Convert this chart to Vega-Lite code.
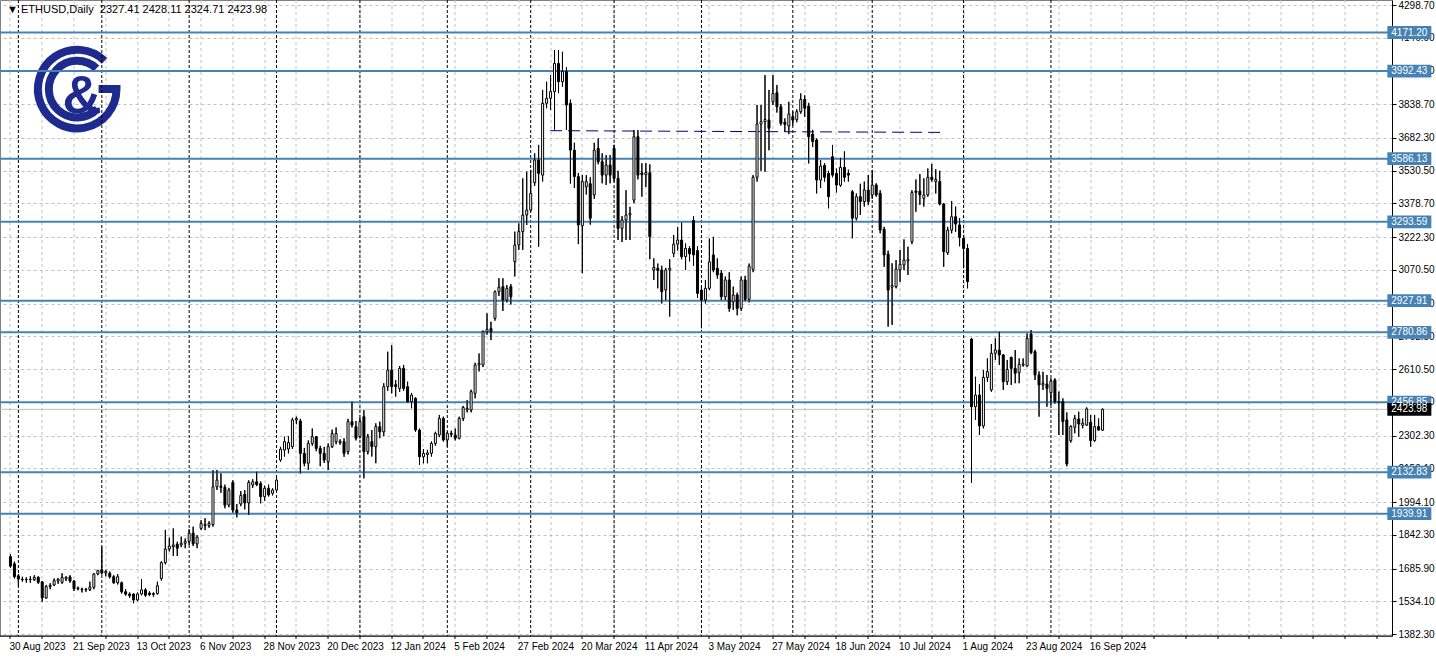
{
"$schema": "https://vega.github.io/schema/vega-lite/v6.json",
"width": 1392, "height": 636,
"autosize": {"type": "none"},
"padding": {"left": 0, "top": 0, "right": 44, "bottom": 22},
"background": "white",
"config": {"view": {"stroke": "#808080", "strokeWidth": 1}, "font": "Liberation Sans", "axis": {"labelOverlap": false}},
"title": {"text": "▼\u00a0ETHUSD,Daily\u00a0\u00a02327.41 2428.11 2324.71 2423.98", "anchor": "start", "frame": "group", "orient": "top", "baseline": "top", "offset": -15, "dx": 7, "fontSize": 11, "fontWeight": "normal", "font": "Liberation Sans", "color": "black"},
"datasets": {
"candles": [
{"i":0,"o":1741,"h":1752,"l":1690,"c":1697},{"i":1,"o":1708,"h":1718,"l":1640,"c":1648},{"i":2,"o":1652,"h":1660,"l":1605,"c":1637},{"i":3,"o":1636,"h":1648,"l":1625,"c":1634},{"i":4,"o":1634,"h":1645,"l":1620,"c":1636},{"i":5,"o":1636,"h":1650,"l":1620,"c":1635},{"i":6,"o":1634,"h":1655,"l":1628,"c":1645},{"i":7,"o":1645,"h":1650,"l":1615,"c":1622},{"i":8,"o":1624,"h":1628,"l":1532,"c":1550},{"i":9,"o":1550,"h":1610,"l":1545,"c":1602},
{"i":10,"o":1602,"h":1618,"l":1590,"c":1608},{"i":11,"o":1610,"h":1640,"l":1605,"c":1630},{"i":12,"o":1628,"h":1642,"l":1615,"c":1636},{"i":13,"o":1622,"h":1664,"l":1615,"c":1645},{"i":14,"o":1638,"h":1650,"l":1628,"c":1645},{"i":15,"o":1647,"h":1655,"l":1620,"c":1628},{"i":16,"o":1628,"h":1632,"l":1582,"c":1592},{"i":17,"o":1592,"h":1602,"l":1585,"c":1596},{"i":18,"o":1590,"h":1597,"l":1575,"c":1588},{"i":19,"o":1588,"h":1596,"l":1578,"c":1590},
{"i":20,"o":1588,"h":1625,"l":1582,"c":1600},{"i":21,"o":1599,"h":1665,"l":1590,"c":1660},{"i":22,"o":1661,"h":1680,"l":1655,"c":1676},{"i":23,"o":1680,"h":1787,"l":1658,"c":1665},{"i":24,"o":1665,"h":1680,"l":1650,"c":1672},{"i":25,"o":1664,"h":1672,"l":1640,"c":1648},{"i":26,"o":1648,"h":1655,"l":1615,"c":1620},{"i":27,"o":1620,"h":1660,"l":1612,"c":1648},{"i":28,"o":1620,"h":1625,"l":1570,"c":1578},{"i":29,"o":1578,"h":1590,"l":1560,"c":1567},
{"i":30,"o":1568,"h":1575,"l":1550,"c":1560},{"i":31,"o":1567,"h":1572,"l":1525,"c":1541},{"i":32,"o":1540,"h":1575,"l":1535,"c":1568},{"i":33,"o":1568,"h":1637,"l":1562,"c":1587},{"i":34,"o":1587,"h":1595,"l":1555,"c":1562},{"i":35,"o":1572,"h":1580,"l":1558,"c":1565},{"i":36,"o":1565,"h":1575,"l":1555,"c":1570},{"i":37,"o":1570,"h":1625,"l":1565,"c":1606},{"i":38,"o":1640,"h":1720,"l":1630,"c":1713},{"i":39,"o":1713,"h":1865,"l":1705,"c":1776},
{"i":40,"o":1776,"h":1829,"l":1765,"c":1790},{"i":41,"o":1787,"h":1872,"l":1744,"c":1795},{"i":42,"o":1798,"h":1810,"l":1744,"c":1780},{"i":43,"o":1795,"h":1834,"l":1785,"c":1803},{"i":44,"o":1803,"h":1825,"l":1780,"c":1812},{"i":45,"o":1812,"h":1868,"l":1795,"c":1850},{"i":46,"o":1850,"h":1880,"l":1790,"c":1800},{"i":47,"o":1800,"h":1840,"l":1780,"c":1832},{"i":48,"o":1872,"h":1910,"l":1865,"c":1895},{"i":49,"o":1885,"h":1919,"l":1864,"c":1890},
{"i":50,"o":1885,"h":1905,"l":1875,"c":1895},{"i":51,"o":1890,"h":2142,"l":1880,"c":2065},{"i":52,"o":2065,"h":2143,"l":2050,"c":2096},{"i":53,"o":2068,"h":2127,"l":2037,"c":2062},{"i":54,"o":2062,"h":2075,"l":1965,"c":1980},{"i":55,"o":1980,"h":2060,"l":1970,"c":2050},{"i":56,"o":2085,"h":2095,"l":1945,"c":1957},{"i":57,"o":1957,"h":1985,"l":1923,"c":1944},{"i":58,"o":1985,"h":2045,"l":1975,"c":2025},{"i":59,"o":2030,"h":2050,"l":1960,"c":1990},
{"i":60,"o":1990,"h":2095,"l":1934,"c":2085},{"i":61,"o":2073,"h":2100,"l":2060,"c":2088},{"i":62,"o":2088,"h":2135,"l":2068,"c":2075},{"i":63,"o":2080,"h":2090,"l":1988,"c":2019},{"i":64,"o":2019,"h":2070,"l":2000,"c":2058},{"i":65,"o":2058,"h":2075,"l":2020,"c":2027},{"i":66,"o":2035,"h":2058,"l":2025,"c":2050},{"i":67,"o":2050,"h":2110,"l":2045,"c":2096},{"i":68,"o":2189,"h":2250,"l":2181,"c":2239},{"i":69,"o":2235,"h":2297,"l":2205,"c":2274},
{"i":70,"o":2240,"h":2300,"l":2220,"c":2270},{"i":71,"o":2251,"h":2385,"l":2240,"c":2375},{"i":72,"o":2375,"h":2390,"l":2355,"c":2382},{"i":73,"o":2370,"h":2380,"l":2127,"c":2220},{"i":74,"o":2220,"h":2245,"l":2160,"c":2174},{"i":75,"o":2174,"h":2280,"l":2143,"c":2266},{"i":76,"o":2266,"h":2335,"l":2255,"c":2297},{"i":77,"o":2297,"h":2300,"l":2230,"c":2243},{"i":78,"o":2243,"h":2255,"l":2160,"c":2220},{"i":79,"o":2220,"h":2250,"l":2175,"c":2189},
{"i":80,"o":2181,"h":2266,"l":2143,"c":2251},{"i":81,"o":2251,"h":2330,"l":2245,"c":2312},{"i":82,"o":2274,"h":2340,"l":2262,"c":2312},{"i":83,"o":2270,"h":2285,"l":2260,"c":2276},{"i":84,"o":2274,"h":2290,"l":2204,"c":2220},{"i":85,"o":2228,"h":2380,"l":2215,"c":2367},{"i":86,"o":2367,"h":2460,"l":2340,"c":2351},{"i":87,"o":2344,"h":2370,"l":2280,"c":2290},{"i":88,"o":2297,"h":2385,"l":2290,"c":2367},{"i":89,"o":2390,"h":2420,"l":2104,"c":2228},
{"i":90,"o":2228,"h":2310,"l":2215,"c":2297},{"i":91,"o":2274,"h":2328,"l":2205,"c":2251},{"i":92,"o":2251,"h":2359,"l":2174,"c":2344},{"i":93,"o":2344,"h":2367,"l":2290,"c":2320},{"i":94,"o":2320,"h":2545,"l":2300,"c":2529},{"i":95,"o":2529,"h":2691,"l":2510,"c":2606},{"i":96,"o":2606,"h":2722,"l":2498,"c":2529},{"i":97,"o":2538,"h":2560,"l":2483,"c":2530},{"i":98,"o":2521,"h":2625,"l":2505,"c":2614},{"i":99,"o":2614,"h":2630,"l":2510,"c":2521},
{"i":100,"o":2529,"h":2552,"l":2455,"c":2460},{"i":101,"o":2460,"h":2500,"l":2429,"c":2490},{"i":102,"o":2475,"h":2480,"l":2320,"c":2328},{"i":103,"o":2328,"h":2335,"l":2166,"c":2204},{"i":104,"o":2204,"h":2240,"l":2174,"c":2220},{"i":105,"o":2215,"h":2236,"l":2174,"c":2222},{"i":106,"o":2220,"h":2275,"l":2205,"c":2266},{"i":107,"o":2266,"h":2320,"l":2255,"c":2313},{"i":108,"o":2305,"h":2398,"l":2295,"c":2382},{"i":109,"o":2382,"h":2390,"l":2275,"c":2282},
{"i":110,"o":2282,"h":2320,"l":2251,"c":2313},{"i":111,"o":2313,"h":2325,"l":2295,"c":2308},{"i":112,"o":2305,"h":2335,"l":2280,"c":2290},{"i":113,"o":2290,"h":2390,"l":2285,"c":2382},{"i":114,"o":2382,"h":2440,"l":2370,"c":2433},{"i":115,"o":2421,"h":2467,"l":2410,"c":2428},{"i":116,"o":2421,"h":2515,"l":2410,"c":2506},{"i":117,"o":2498,"h":2640,"l":2475,"c":2630},{"i":118,"o":2630,"h":2683,"l":2600,"c":2637},{"i":119,"o":2630,"h":2790,"l":2620,"c":2784},
{"i":120,"o":2784,"h":2869,"l":2770,"c":2795},{"i":121,"o":2799,"h":2830,"l":2745,"c":2784},{"i":122,"o":2846,"h":2975,"l":2835,"c":2969},{"i":123,"o":2969,"h":3032,"l":2950,"c":2990},{"i":124,"o":2993,"h":3032,"l":2880,"c":2931},{"i":125,"o":2931,"h":3000,"l":2920,"c":2985},{"i":126,"o":2993,"h":3005,"l":2910,"c":2946},{"i":127,"o":3109,"h":3248,"l":3040,"c":3186},{"i":128,"o":3186,"h":3286,"l":3163,"c":3248},{"i":129,"o":3248,"h":3495,"l":3163,"c":3325},
{"i":130,"o":3325,"h":3526,"l":3279,"c":3348},{"i":131,"o":3348,"h":3534,"l":3340,"c":3425},{"i":132,"o":3475,"h":3611,"l":3460,"c":3580},{"i":133,"o":3580,"h":3650,"l":3178,"c":3518},{"i":134,"o":3510,"h":3905,"l":3480,"c":3843},{"i":135,"o":3843,"h":3943,"l":3820,"c":3866},{"i":136,"o":3866,"h":3974,"l":3812,"c":3897},{"i":137,"o":3897,"h":4090,"l":3719,"c":4028},{"i":138,"o":4028,"h":4090,"l":3890,"c":3943},{"i":139,"o":3943,"h":4082,"l":3920,"c":3990},
{"i":140,"o":3990,"h":4010,"l":3719,"c":3835},{"i":141,"o":3843,"h":3860,"l":3471,"c":3626},{"i":142,"o":3626,"h":3660,"l":3450,"c":3503},{"i":143,"o":3503,"h":3520,"l":3190,"c":3279},{"i":144,"o":3275,"h":3510,"l":3055,"c":3480},{"i":145,"o":3456,"h":3510,"l":3420,"c":3480},{"i":146,"o":3470,"h":3500,"l":3280,"c":3310},{"i":147,"o":3418,"h":3660,"l":3400,"c":3626},{"i":148,"o":3634,"h":3680,"l":3560,"c":3572},{"i":149,"o":3572,"h":3611,"l":3472,"c":3510},
{"i":150,"o":3510,"h":3603,"l":3464,"c":3557},{"i":151,"o":3557,"h":3603,"l":3472,"c":3510},{"i":152,"o":3634,"h":3650,"l":3480,"c":3495},{"i":153,"o":3495,"h":3530,"l":3209,"c":3263},{"i":154,"o":3263,"h":3320,"l":3200,"c":3302},{"i":155,"o":3302,"h":3440,"l":3209,"c":3325},{"i":156,"o":3325,"h":3363,"l":3209,"c":3332},{"i":157,"o":3394,"h":3719,"l":3380,"c":3688},{"i":158,"o":3688,"h":3719,"l":3490,"c":3510},{"i":159,"o":3520,"h":3565,"l":3410,"c":3512},
{"i":160,"o":3512,"h":3565,"l":3455,"c":3522},{"i":161,"o":3521,"h":3560,"l":3120,"c":3225},{"i":162,"o":3070,"h":3124,"l":3024,"c":3082},{"i":163,"o":3078,"h":3100,"l":2985,"c":3068},{"i":164,"o":3070,"h":3090,"l":2915,"c":2970},{"i":165,"o":2977,"h":3080,"l":2930,"c":3070},{"i":166,"o":3070,"h":3120,"l":2854,"c":3078},{"i":167,"o":3147,"h":3232,"l":3130,"c":3190},{"i":168,"o":3190,"h":3270,"l":3160,"c":3209},{"i":169,"o":3209,"h":3290,"l":3120,"c":3132},
{"i":170,"o":3132,"h":3193,"l":3070,"c":3170},{"i":171,"o":3170,"h":3180,"l":3110,"c":3145},{"i":172,"o":3300,"h":3320,"l":3090,"c":3140},{"i":173,"o":3160,"h":3180,"l":2940,"c":2962},{"i":174,"o":2977,"h":2995,"l":2800,"c":2931},{"i":175,"o":2931,"h":3024,"l":2915,"c":2985},{"i":176,"o":2985,"h":3216,"l":2977,"c":3108},{"i":177,"o":3140,"h":3224,"l":3060,"c":3070},{"i":178,"o":3078,"h":3124,"l":3030,"c":3047},{"i":179,"o":3055,"h":3070,"l":2930,"c":2946},
{"i":180,"o":2946,"h":3040,"l":2930,"c":3024},{"i":181,"o":3024,"h":3060,"l":2877,"c":2892},{"i":182,"o":2923,"h":2993,"l":2885,"c":2954},{"i":183,"o":2954,"h":2965,"l":2860,"c":2892},{"i":184,"o":2892,"h":3040,"l":2880,"c":3024},{"i":185,"o":3024,"h":3043,"l":2925,"c":2934},{"i":186,"o":2934,"h":3100,"l":2920,"c":3088},{"i":187,"o":3073,"h":3510,"l":3060,"c":3500},{"i":188,"o":3500,"h":3835,"l":3480,"c":3747},{"i":189,"o":3747,"h":3835,"l":3530,"c":3758},
{"i":190,"o":3758,"h":3974,"l":3525,"c":3768},{"i":191,"o":3765,"h":3905,"l":3625,"c":3727},{"i":192,"o":3850,"h":3974,"l":3835,"c":3889},{"i":193,"o":3892,"h":3928,"l":3800,"c":3827},{"i":194,"o":3827,"h":3840,"l":3740,"c":3750},{"i":195,"o":3755,"h":3773,"l":3710,"c":3745},{"i":196,"o":3738,"h":3850,"l":3700,"c":3793},{"i":197,"o":3781,"h":3805,"l":3740,"c":3765},{"i":198,"o":3768,"h":3815,"l":3755,"c":3804},{"i":199,"o":3804,"h":3889,"l":3795,"c":3861},
{"i":200,"o":3861,"h":3880,"l":3780,"c":3820},{"i":201,"o":3830,"h":3845,"l":3564,"c":3688},{"i":202,"o":3700,"h":3720,"l":3640,"c":3665},{"i":203,"o":3673,"h":3680,"l":3425,"c":3487},{"i":204,"o":3487,"h":3580,"l":3450,"c":3552},{"i":205,"o":3555,"h":3565,"l":3480,"c":3500},{"i":206,"o":3518,"h":3530,"l":3356,"c":3410},{"i":207,"o":3595,"h":3650,"l":3500,"c":3510},{"i":208,"o":3518,"h":3540,"l":3430,"c":3464},{"i":209,"o":3463,"h":3590,"l":3455,"c":3546},
{"i":210,"o":3546,"h":3620,"l":3480,"c":3500},{"i":211,"o":3518,"h":3535,"l":3480,"c":3510},{"i":212,"o":3433,"h":3440,"l":3217,"c":3310},{"i":213,"o":3310,"h":3425,"l":3300,"c":3410},{"i":214,"o":3410,"h":3470,"l":3325,"c":3387},{"i":215,"o":3387,"h":3480,"l":3364,"c":3441},{"i":216,"o":3441,"h":3510,"l":3372,"c":3387},{"i":217,"o":3418,"h":3534,"l":3400,"c":3464},{"i":218,"o":3464,"h":3472,"l":3410,"c":3418},{"i":219,"o":3426,"h":3440,"l":3240,"c":3255},
{"i":220,"o":3259,"h":3270,"l":3085,"c":3140},{"i":221,"o":3144,"h":3160,"l":2807,"c":2977},{"i":222,"o":2990,"h":3101,"l":2815,"c":2998},{"i":223,"o":2993,"h":3116,"l":2985,"c":3075},{"i":224,"o":3070,"h":3163,"l":3015,"c":3096},{"i":225,"o":3093,"h":3212,"l":3070,"c":3116},{"i":226,"o":3112,"h":3178,"l":3047,"c":3118},{"i":227,"o":3201,"h":3440,"l":3190,"c":3429},{"i":228,"o":3436,"h":3490,"l":3340,"c":3430},{"i":229,"o":3436,"h":3515,"l":3372,"c":3418},
{"i":230,"o":3402,"h":3495,"l":3364,"c":3418},{"i":231,"o":3418,"h":3541,"l":3410,"c":3500},{"i":232,"o":3500,"h":3562,"l":3480,"c":3490},{"i":233,"o":3480,"h":3537,"l":3425,"c":3490},{"i":234,"o":3480,"h":3530,"l":3370,"c":3376},{"i":235,"o":3376,"h":3380,"l":3085,"c":3155},{"i":236,"o":3150,"h":3270,"l":3140,"c":3255},{"i":237,"o":3255,"h":3390,"l":3240,"c":3317},{"i":238,"o":3317,"h":3364,"l":3247,"c":3283},{"i":239,"o":3279,"h":3310,"l":3180,"c":3221},
{"i":240,"o":3217,"h":3230,"l":3078,"c":3170},{"i":241,"o":3170,"h":3190,"l":2985,"c":3016},{"i":242,"o":2750,"h":2755,"l":2084,"c":2436},{"i":243,"o":2436,"h":2575,"l":2375,"c":2490},{"i":244,"o":2490,"h":2540,"l":2305,"c":2347},{"i":245,"o":2347,"h":2606,"l":2336,"c":2572},{"i":246,"o":2572,"h":2660,"l":2552,"c":2599},{"i":247,"o":2514,"h":2727,"l":2506,"c":2684},{"i":248,"o":2684,"h":2753,"l":2653,"c":2699},{"i":249,"o":2699,"h":2784,"l":2630,"c":2676},
{"i":250,"o":2676,"h":2680,"l":2514,"c":2552},{"i":251,"o":2552,"h":2653,"l":2537,"c":2609},{"i":252,"o":2665,"h":2668,"l":2537,"c":2614},{"i":253,"o":2614,"h":2699,"l":2545,"c":2591},{"i":254,"o":2594,"h":2660,"l":2545,"c":2633},{"i":255,"o":2629,"h":2660,"l":2622,"c":2634},{"i":256,"o":2625,"h":2776,"l":2622,"c":2753},{"i":257,"o":2773,"h":2792,"l":2680,"c":2687},{"i":258,"o":2691,"h":2700,"l":2560,"c":2583},{"i":259,"o":2583,"h":2600,"l":2390,"c":2537},
{"i":260,"o":2537,"h":2598,"l":2514,"c":2545},{"i":261,"o":2541,"h":2583,"l":2436,"c":2521},{"i":262,"o":2501,"h":2568,"l":2444,"c":2555},{"i":263,"o":2560,"h":2568,"l":2450,"c":2460},{"i":264,"o":2460,"h":2506,"l":2305,"c":2455},{"i":265,"o":2460,"h":2475,"l":2305,"c":2367},{"i":266,"o":2375,"h":2410,"l":2160,"c":2171},{"i":267,"o":2279,"h":2350,"l":2270,"c":2344},{"i":268,"o":2341,"h":2398,"l":2313,"c":2382},{"i":269,"o":2379,"h":2413,"l":2297,"c":2356},
{"i":270,"o":2350,"h":2382,"l":2336,"c":2360},{"i":271,"o":2351,"h":2433,"l":2347,"c":2426},{"i":272,"o":2364,"h":2398,"l":2251,"c":2279},{"i":273,"o":2279,"h":2398,"l":2274,"c":2344},{"i":274,"o":2344,"h":2382,"l":2326,"c":2328},{"i":275,"o":2327.41,"h":2428.11,"l":2324.71,"c":2423.98}
],
"levels": [{"p":4171.20},{"p":3992.43},{"p":3586.13},{"p":3293.59},{"p":2927.91},{"p":2780.86},{"p":2456.85},{"p":2132.83},{"p":1939.91}],
"months": [{"i":2},{"i":23},{"i":45},{"i":67},{"i":88},{"i":110},{"i":131},{"i":152},{"i":174},{"i":197},{"i":217},{"i":240},{"i":262}],
"current": [{"p":2423.98}],
"trend": [{"i1":135.9,"p1":3716,"i2":234.9,"p2":3708}]
},
"layer": [
{"data": {"name": "candles"},
 "mark": {"type": "rule", "color": "#000000", "strokeWidth": 1},
 "encoding": {
  "x": {"field": "i", "type": "quantitative", "scale": {"domain": [-1.375, 346.625], "nice": false, "zero": false},
   "axis": {"orient": "bottom", "title": null, "tickCount": 1000, "values": [0,8,16,24,32,40,48,56,64,72,80,88,96,104,112,120,128,136,144,152,160,168,176,184,192,200,208,216,224,232,240,248,256,264,272,280,288,296,304,312,320,328,336,344],
    "labelExpr": "datum.value % 16 == 0 ? (['30 Aug 2023','21 Sep 2023','13 Oct 2023','6 Nov 2023','28 Nov 2023','20 Dec 2023','12 Jan 2024','5 Feb 2024','27 Feb 2024','20 Mar 2024','11 Apr 2024','3 May 2024','27 May 2024','18 Jun 2024','10 Jul 2024','1 Aug 2024','23 Aug 2024','16 Sep 2024'][datum.value / 16] || '') : ''",
    "grid": true, "gridColor": "#C0C0C0", "gridDash": [3, 3], "gridWidth": 1, "translate": 0,
    "tickSize": 3, "tickColor": "#000000", "domainColor": "#000000", "labelAlign": "left", "labelBaseline": "top", "labelPadding": 3, "labelOffset": -1,
    "labelFlush": false, "labelOverlap": false, "labelFontSize": 10, "labelFont": "Liberation Sans", "labelColor": "#000000"}},
  "y": {"field": "l", "type": "quantitative", "scale": {"domain": [1373.07, 4321.9], "nice": false, "zero": false},
   "axis": {"orient": "right", "title": null, "tickCount": 1000, "values": [1382.3,1534.1,1685.9,1842.3,1994.1,2150.1,2302.3,2458.1,2610.5,2762.5,2914.1,3070.5,3222.3,3378.7,3530.5,3682.3,3838.7,3994.3,4146.9,4298.7],
    "format": ".2f", "grid": true, "gridColor": "#C0C0C0", "gridDash": [3, 3], "gridWidth": 1,
    "tickSize": 4, "tickColor": "#000000", "domainColor": "#000000", "labelPadding": 2, "labelFlush": false, "labelOverlap": false,
    "labelFontSize": 10, "labelFont": "Liberation Sans", "labelColor": "#000000"}},
  "y2": {"field": "h"}
 }},
{"data": {"values": [{}]},
 "mark": {"type": "point", "shape": "M0.631,-0.653 A0.908,0.908 0 1 0 0.908,0 L0.494,0 M0.446,-0.478 A0.654,0.654 0 1 0 0.470,0.455", "filled": false, "size": 7500, "strokeWidth": 8, "color": "#1F2A8F", "opacity": 1, "strokeCap": "butt"},
 "encoding": {
  "x": {"datum": 16.8, "type": "quantitative", "title": null},
  "y": {"datum": 3909, "type": "quantitative", "title": null}
 }},
{"data": {"values": [{}]},
 "mark": {"type": "text", "text": "&", "font": "Liberation Sans", "fontWeight": "bold", "fontSize": 54, "color": "#1F2A8F", "align": "center", "baseline": "alphabetic"},
 "encoding": {
  "x": {"datum": 18.0, "type": "quantitative", "title": null},
  "y": {"datum": 3800, "type": "quantitative", "title": null}
 }},
{"data": {"name": "months"},
 "mark": {"type": "rule", "color": "#000000", "strokeWidth": 1, "strokeDash": [3, 2]},
 "encoding": {
  "x": {"field": "i", "type": "quantitative", "title": null}
 }},
{"data": {"name": "current"},
 "mark": {"type": "rule", "color": "#C0C0C0", "strokeWidth": 1},
 "encoding": {
  "y": {"field": "p", "type": "quantitative", "title": null}
 }},
{"data": {"name": "levels"},
 "mark": {"type": "rule", "color": "#4682B4", "strokeWidth": 2},
 "encoding": {
  "y": {"field": "p", "type": "quantitative", "title": null}
 }},
{"data": {"name": "trend"},
 "mark": {"type": "rule", "color": "#000080", "strokeWidth": 1, "strokeDash": [12, 6]},
 "encoding": {
  "x": {"field": "i1", "type": "quantitative", "title": null},
  "x2": {"field": "i2"},
  "y": {"field": "p1", "type": "quantitative", "title": null},
  "y2": {"field": "p2"}
 }},
{"data": {"name": "candles"},
 "mark": {"type": "rule", "color": "#000000", "strokeWidth": 1},
 "encoding": {
  "x": {"field": "i", "type": "quantitative", "title": null},
  "y": {"field": "l", "type": "quantitative", "title": null},
  "y2": {"field": "h"}
 }},
{"data": {"name": "candles"},
 "mark": {"type": "bar", "width": 2, "stroke": "#000000", "strokeWidth": 1},
 "encoding": {
  "x": {"field": "i", "type": "quantitative", "title": null},
  "y": {"field": "o", "type": "quantitative", "title": null},
  "y2": {"field": "c"},
  "fill": {"condition": {"test": "datum.c < datum.o", "value": "#000000"}, "value": "#FFFFFF"}
 }},
{"data": {"name": "levels"},
 "mark": {"type": "point", "shape": "M-1,-0.29 L1,-0.29 L1,0.29 L-1,0.29 Z", "filled": true, "size": 1936, "color": "#4682B4", "opacity": 1},
 "encoding": {
  "x": {"datum": 352.25, "type": "quantitative", "title": null},
  "y": {"field": "p", "type": "quantitative", "title": null}
 }},
{"data": {"name": "current"},
 "mark": {"type": "point", "shape": "M-1,-0.29 L1,-0.29 L1,0.29 L-1,0.29 Z", "filled": true, "size": 1936, "color": "#000000", "opacity": 1},
 "encoding": {
  "x": {"datum": 352.25, "type": "quantitative", "title": null},
  "y": {"field": "p", "type": "quantitative", "title": null}
 }},
{"data": {"name": "levels"},
 "mark": {"type": "text", "color": "#FFFFFF", "fontSize": 10, "font": "Liberation Sans", "align": "center", "baseline": "middle"},
 "encoding": {
  "x": {"datum": 352.25, "type": "quantitative", "title": null},
  "y": {"field": "p", "type": "quantitative", "title": null},
  "text": {"field": "p", "type": "quantitative", "format": ".2f"}
 }},
{"data": {"name": "current"},
 "mark": {"type": "text", "color": "#FFFFFF", "fontSize": 10, "font": "Liberation Sans", "align": "center", "baseline": "middle"},
 "encoding": {
  "x": {"datum": 352.25, "type": "quantitative", "title": null},
  "y": {"field": "p", "type": "quantitative", "title": null},
  "text": {"field": "p", "type": "quantitative", "format": ".2f"}
 }}
]
}
